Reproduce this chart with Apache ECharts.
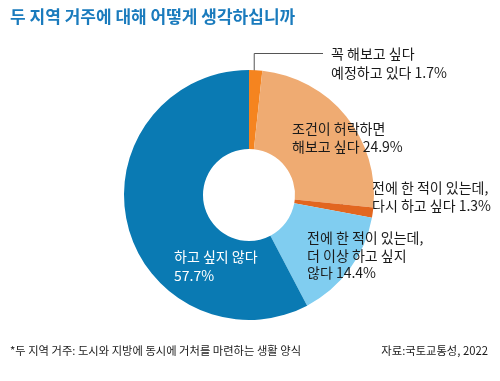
<!DOCTYPE html>
<html>
<head>
<meta charset="utf-8">
<script src="https://cdn.jsdelivr.net/npm/echarts@6/dist/echarts.min.js"></script>
<style>
html,body{margin:0;padding:0;background:#fff;}
#c{width:500px;height:381px;}
</style>
</head>
<body>
<div id="c"></div>
<script>
const categories = ['꼭 해보고 싶다\n예정하고 있다', '조건이 허락하면\n해보고 싶다', '전에 한 적이 있는데,\n다시 하고 싶다', '전에 한 적이 있는데,\n더 이상 하고 싶지\n않다', '하고 싶지 않다'];
const values = [1.7, 24.9, 1.3, 14.4, 57.7];
const colors = ['#f5841f', '#efab72', '#e2661f', '#80cdf0', '#0a7ab3'];
const titleText = '두 지역 거주에 대해 어떻게 생각하십니까';
const noteText = '*두 지역 거주: 도시와 지방에 동시에 거처를 마련하는 생활 양식';
const sourceText = '자료:국토교통성, 2022';

const FONT = '"Noto Sans CJK KR", "Noto Sans", sans-serif';
const CX = 249, CY = 195, R0 = 46, R1 = 125;
// label box placement (top-left), per slice
const labelPos = [
  {x: 331, y: 44, lh: 19, line: true, lineR: 98},
  {x: 292, y: 120, lh: 18},
  {x: 372, y: 179, lh: 17.5, line: true, lineR: 94},
  {x: 307, y: 229, lh: 17.5},
  {x: 174, y: 247, lh: 19}
];
const total = values.reduce((a, b) => a + b, 0);
function midAngle(i) {
  let cum = 0;
  for (let k = 0; k < i; k++) cum += values[k];
  return 2 * Math.PI * (cum + values[i] / 2) / total;
}

const chart = echarts.init(document.getElementById('c'));
chart.setOption({
  animation: false,
  title: {
    text: titleText, left: 10, top: 8, padding: 0,
    textStyle: {fontFamily: FONT, fontSize: 17, fontWeight: 'bold', color: '#1a7bbd'}
  },
  graphic: [
    {type: 'text', left: 10, top: 345, style: {text: noteText, font: '11.3px ' + FONT, fill: '#1a1a1a'}},
    {type: 'text', right: 12, top: 345, style: {text: sourceText, font: '11.3px ' + FONT, fill: '#1a1a1a'}}
  ],
  series: [{
    type: 'pie',
    center: [CX, CY],
    radius: [R0, R1],
    startAngle: 90,
    clockwise: true,
    avoidLabelOverlap: false,
    silent: true,
    itemStyle: {borderWidth: 0},
    label: {
      show: true,
      fontFamily: FONT,
      fontSize: 14,
      color: '#1a1a1a',
      formatter: p => p.dataIndex === 4 ? p.name + '\n' + p.value + '%' : p.name + ' ' + p.value + '%'
    },
    labelLine: {show: true, lineStyle: {color: '#555', width: 1}},
    labelLayout: function (p) {
      const i = p.dataIndex;
      const L = labelPos[i];
      const out = {x: L.x, y: L.y, align: 'left', verticalAlign: 'top'};
      if (L.line) {
        const a = midAngle(i);
        const sx = CX + L.lineR * Math.sin(a);
        const sy = CY - L.lineR * Math.cos(a);
        const ly = L.y + L.lh / 2;
        out.labelLinePoints = [[sx, sy], [sx, ly], [L.x - 8, ly]];
      }
      return out;
    },
    data: values.map((v, i) => ({
      value: v,
      name: categories[i],
      itemStyle: {color: colors[i]},
      label: {
        position: labelPos[i].line ? 'outside' : 'inside',
        lineHeight: labelPos[i].lh,
        color: i === 4 ? '#fff' : '#1a1a1a'
      },
      labelLine: {show: !!labelPos[i].line}
    }))
  }]
});
</script>
</body>
</html>
